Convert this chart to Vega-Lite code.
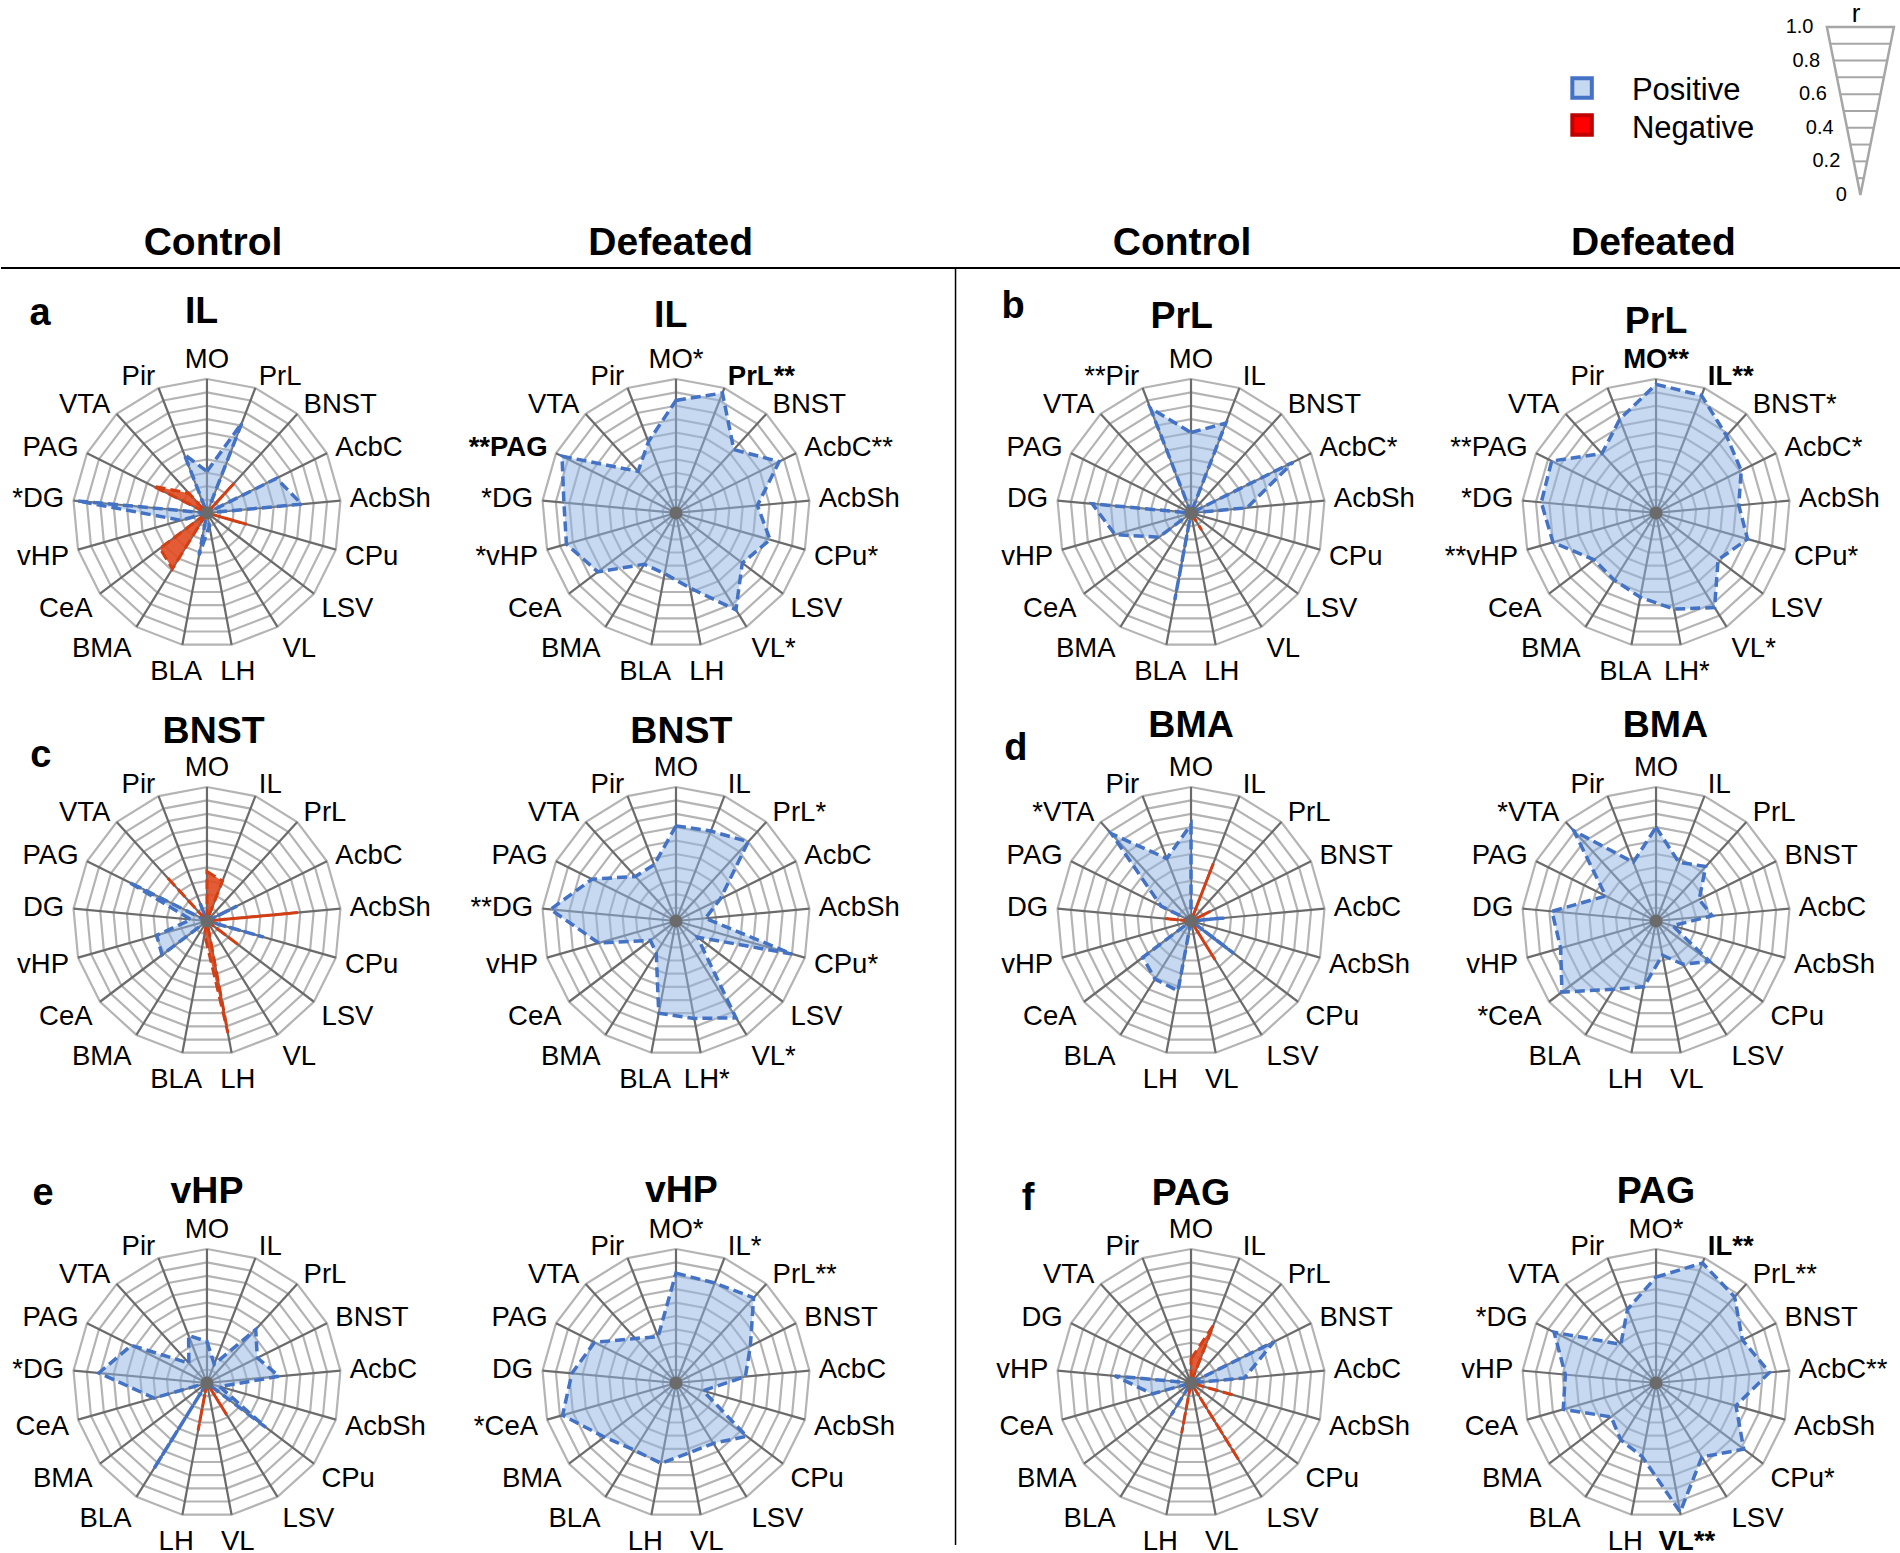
{
"$schema":"https://vega.github.io/schema/vega-lite/v6.json",
"padding":0,
"background":"white",
"columns":4,
"align":"each",
"spacing":0,
"bounds":"flush",
"config":{"view":{"stroke":null},"axis":{"disable":true},"concat":{"spacing":0},
"style":{
"lab":{"font":"Liberation Sans","fontSize":27.5,"baseline":"middle"},
"labb":{"font":"Liberation Sans","fontSize":27.5,"baseline":"middle","fontWeight":"bold"},
"ttl":{"font":"Liberation Sans","fontSize":37.5,"fontWeight":"bold","baseline":"alphabetic","align":"center"},
"ltr":{"font":"Liberation Sans","fontSize":38,"fontWeight":"bold","baseline":"alphabetic","align":"center"},
"hdr":{"font":"Liberation Sans","fontSize":39,"fontWeight":"bold","baseline":"alphabetic","align":"center"},
"leg":{"font":"Liberation Sans","fontSize":31,"baseline":"alphabetic","align":"left"},
"tick":{"font":"Liberation Sans","fontSize":20,"baseline":"middle","align":"right"}
}},
"datasets":{
"grid":[{"k":0,"lv":[0.1,0.2,0.3,0.4,0.5,0.6,0.7,0.8,0.9,1]},{"k":1,"lv":[0.1,0.2,0.3,0.4,0.5,0.6,0.7,0.8,0.9,1]},{"k":2,"lv":[0.1,0.2,0.3,0.4,0.5,0.6,0.7,0.8,0.9,1]},{"k":3,"lv":[0.1,0.2,0.3,0.4,0.5,0.6,0.7,0.8,0.9,1]},{"k":4,"lv":[0.1,0.2,0.3,0.4,0.5,0.6,0.7,0.8,0.9,1]},{"k":5,"lv":[0.1,0.2,0.3,0.4,0.5,0.6,0.7,0.8,0.9,1]},{"k":6,"lv":[0.1,0.2,0.3,0.4,0.5,0.6,0.7,0.8,0.9,1]},{"k":7,"lv":[0.1,0.2,0.3,0.4,0.5,0.6,0.7,0.8,0.9,1]},{"k":8,"lv":[0.1,0.2,0.3,0.4,0.5,0.6,0.7,0.8,0.9,1]},{"k":9,"lv":[0.1,0.2,0.3,0.4,0.5,0.6,0.7,0.8,0.9,1]},{"k":10,"lv":[0.1,0.2,0.3,0.4,0.5,0.6,0.7,0.8,0.9,1]},{"k":11,"lv":[0.1,0.2,0.3,0.4,0.5,0.6,0.7,0.8,0.9,1]},{"k":12,"lv":[0.1,0.2,0.3,0.4,0.5,0.6,0.7,0.8,0.9,1]},{"k":13,"lv":[0.1,0.2,0.3,0.4,0.5,0.6,0.7,0.8,0.9,1]},{"k":14,"lv":[0.1,0.2,0.3,0.4,0.5,0.6,0.7,0.8,0.9,1]},{"k":15,"lv":[0.1,0.2,0.3,0.4,0.5,0.6,0.7,0.8,0.9,1]},{"k":16,"lv":[0.1,0.2,0.3,0.4,0.5,0.6,0.7,0.8,0.9,1]}],
"d":[
{"p":"ac","k":0,"lab":"MO","r":0.31},{"p":"ac","k":1,"lab":"PrL","r":0.72},{"p":"ac","k":2,"lab":"BNST","r":-0.30},{"p":"ac","k":3,"lab":"AcbC","r":0.58},{"p":"ac","k":4,"lab":"AcbSh","r":0.71},{"p":"ac","k":5,"lab":"CPu","r":-0.31},{"p":"ac","k":6,"lab":"LSV","r":0},{"p":"ac","k":7,"lab":"VL","r":0},{"p":"ac","k":8,"lab":"LH","r":0.1},{"p":"ac","k":9,"lab":"BLA","r":0.32},{"p":"ac","k":10,"lab":"BMA","r":-0.49},{"p":"ac","k":11,"lab":"CeA","r":-0.44},{"p":"ac","k":12,"lab":"vHP","r":0.2},{"p":"ac","k":13,"lab":"*DG","r":0.97},{"p":"ac","k":14,"lab":"PAG","r":-0.45},{"p":"ac","k":15,"lab":"VTA","r":-0.2},{"p":"ac","k":16,"lab":"Pir","r":0.47},
{"p":"ad","k":0,"lab":"MO*","r":0.84},{"p":"ad","k":1,"lab":"PrL**","r":0.96,"b":1},{"p":"ad","k":2,"lab":"BNST","r":0.64},{"p":"ad","k":3,"lab":"AcbC**","r":0.86},{"p":"ad","k":4,"lab":"AcbSh","r":0.61},{"p":"ad","k":5,"lab":"CPu*","r":0.73},{"p":"ad","k":6,"lab":"LSV","r":0.62},{"p":"ad","k":7,"lab":"VL*","r":0.85},{"p":"ad","k":8,"lab":"LH","r":0.57},{"p":"ad","k":9,"lab":"BLA","r":0.46},{"p":"ad","k":10,"lab":"BMA","r":0.45},{"p":"ad","k":11,"lab":"CeA","r":0.73},{"p":"ad","k":12,"lab":"*vHP","r":0.85},{"p":"ad","k":13,"lab":"*DG","r":0.84},{"p":"ad","k":14,"lab":"**PAG","r":0.95,"b":1},{"p":"ad","k":15,"lab":"VTA","r":0.42},{"p":"ad","k":16,"lab":"Pir","r":0.57},
{"p":"bc","k":0,"lab":"MO","r":0.6},{"p":"bc","k":1,"lab":"IL","r":0.72},{"p":"bc","k":2,"lab":"BNST","r":0},{"p":"bc","k":3,"lab":"AcbC*","r":0.85},{"p":"bc","k":4,"lab":"AcbSh","r":0.42},{"p":"bc","k":5,"lab":"CPu","r":0},{"p":"bc","k":6,"lab":"LSV","r":0},{"p":"bc","k":7,"lab":"VL","r":-0.15},{"p":"bc","k":8,"lab":"LH","r":0},{"p":"bc","k":9,"lab":"BLA","r":0.66},{"p":"bc","k":10,"lab":"BMA","r":0},{"p":"bc","k":11,"lab":"CeA","r":0.3},{"p":"bc","k":12,"lab":"vHP","r":0.59},{"p":"bc","k":13,"lab":"DG","r":0.74},{"p":"bc","k":14,"lab":"PAG","r":0},{"p":"bc","k":15,"lab":"VTA","r":0},{"p":"bc","k":16,"lab":"**Pir","r":0.84},
{"p":"bd","k":0,"lab":"MO**","r":0.96,"b":1},{"p":"bd","k":1,"lab":"IL**","r":0.94,"b":1},{"p":"bd","k":2,"lab":"BNST*","r":0.78},{"p":"bd","k":3,"lab":"AcbC*","r":0.71},{"p":"bd","k":4,"lab":"AcbSh","r":0.62},{"p":"bd","k":5,"lab":"CPu*","r":0.71},{"p":"bd","k":6,"lab":"LSV","r":0.58},{"p":"bd","k":7,"lab":"VL*","r":0.83},{"p":"bd","k":8,"lab":"LH*","r":0.73},{"p":"bd","k":9,"lab":"BLA","r":0.64},{"p":"bd","k":10,"lab":"BMA","r":0.59},{"p":"bd","k":11,"lab":"CeA","r":0.58},{"p":"bd","k":12,"lab":"**vHP","r":0.8},{"p":"bd","k":13,"lab":"*DG","r":0.86},{"p":"bd","k":14,"lab":"**PAG","r":0.87},{"p":"bd","k":15,"lab":"VTA","r":0.6},{"p":"bd","k":16,"lab":"Pir","r":0.75},
{"p":"cc","k":0,"lab":"MO","r":-0.37},{"p":"cc","k":1,"lab":"IL","r":-0.32},{"p":"cc","k":2,"lab":"PrL","r":0},{"p":"cc","k":3,"lab":"AcbC","r":0.25},{"p":"cc","k":4,"lab":"AcbSh","r":-0.68},{"p":"cc","k":5,"lab":"CPu","r":0.44},{"p":"cc","k":6,"lab":"LSV","r":-0.3},{"p":"cc","k":7,"lab":"VL","r":0},{"p":"cc","k":8,"lab":"LH","r":-0.85},{"p":"cc","k":9,"lab":"BLA","r":-0.1},{"p":"cc","k":10,"lab":"BMA","r":0},{"p":"cc","k":11,"lab":"CeA","r":0.42},{"p":"cc","k":12,"lab":"vHP","r":0.39},{"p":"cc","k":13,"lab":"DG","r":0.12},{"p":"cc","k":14,"lab":"PAG","r":0.65},{"p":"cc","k":15,"lab":"VTA","r":-0.45},{"p":"cc","k":16,"lab":"Pir","r":0.15},
{"p":"cd","k":0,"lab":"MO","r":0.71},{"p":"cd","k":1,"lab":"IL","r":0.72},{"p":"cd","k":2,"lab":"PrL*","r":0.8},{"p":"cd","k":3,"lab":"AcbC","r":0.37},{"p":"cd","k":4,"lab":"AcbSh","r":0.22},{"p":"cd","k":5,"lab":"CPu*","r":0.9},{"p":"cd","k":6,"lab":"LSV","r":0.2},{"p":"cd","k":7,"lab":"VL*","r":0.85},{"p":"cd","k":8,"lab":"LH*","r":0.74},{"p":"cd","k":9,"lab":"BLA","r":0.7},{"p":"cd","k":10,"lab":"BMA","r":0.28},{"p":"cd","k":11,"lab":"CeA","r":0.24},{"p":"cd","k":12,"lab":"vHP","r":0.6},{"p":"cd","k":13,"lab":"**DG","r":0.94},{"p":"cd","k":14,"lab":"PAG","r":0.7},{"p":"cd","k":15,"lab":"VTA","r":0.45},{"p":"cd","k":16,"lab":"Pir","r":0.45},
{"p":"dc","k":0,"lab":"MO","r":0.72},{"p":"dc","k":1,"lab":"IL","r":-0.46},{"p":"dc","k":2,"lab":"PrL","r":0},{"p":"dc","k":3,"lab":"BNST","r":-0.16},{"p":"dc","k":4,"lab":"AcbC","r":0.25},{"p":"dc","k":5,"lab":"AcbSh","r":0},{"p":"dc","k":6,"lab":"CPu","r":0.4},{"p":"dc","k":7,"lab":"LSV","r":-0.34},{"p":"dc","k":8,"lab":"VL","r":0},{"p":"dc","k":9,"lab":"LH","r":0.53},{"p":"dc","k":10,"lab":"BLA","r":0.51},{"p":"dc","k":11,"lab":"CeA","r":0.45},{"p":"dc","k":12,"lab":"vHP","r":0},{"p":"dc","k":13,"lab":"DG","r":-0.2},{"p":"dc","k":14,"lab":"PAG","r":0.25},{"p":"dc","k":15,"lab":"*VTA","r":0.88},{"p":"dc","k":16,"lab":"Pir","r":0.5},
{"p":"dd","k":0,"lab":"MO","r":0.7},{"p":"dd","k":1,"lab":"IL","r":0.47},{"p":"dd","k":2,"lab":"PrL","r":0.55},{"p":"dd","k":3,"lab":"BNST","r":0.36},{"p":"dd","k":4,"lab":"AcbC","r":0.42},{"p":"dd","k":5,"lab":"AcbSh","r":0.13},{"p":"dd","k":6,"lab":"CPu","r":0.5},{"p":"dd","k":7,"lab":"LSV","r":0.38},{"p":"dd","k":8,"lab":"VL","r":0.26},{"p":"dd","k":9,"lab":"LH","r":0.5},{"p":"dd","k":10,"lab":"BLA","r":0.6},{"p":"dd","k":11,"lab":"*CeA","r":0.88},{"p":"dd","k":12,"lab":"vHP","r":0.74},{"p":"dd","k":13,"lab":"DG","r":0.78},{"p":"dd","k":14,"lab":"PAG","r":0.42},{"p":"dd","k":15,"lab":"*VTA","r":0.91},{"p":"dd","k":16,"lab":"Pir","r":0.47},
{"p":"ec","k":0,"lab":"MO","r":0.31},{"p":"ec","k":1,"lab":"IL","r":0.15},{"p":"ec","k":2,"lab":"PrL","r":0.54},{"p":"ec","k":3,"lab":"BNST","r":0.42},{"p":"ec","k":4,"lab":"AcbC","r":0.54},{"p":"ec","k":5,"lab":"AcbSh","r":0.1},{"p":"ec","k":6,"lab":"CPu","r":0.55},{"p":"ec","k":7,"lab":"LSV","r":-0.28},{"p":"ec","k":8,"lab":"VL","r":0},{"p":"ec","k":9,"lab":"LH","r":-0.36},{"p":"ec","k":10,"lab":"BLA","r":0.75},{"p":"ec","k":11,"lab":"BMA","r":0},{"p":"ec","k":12,"lab":"CeA","r":0.41},{"p":"ec","k":13,"lab":"*DG","r":0.81},{"p":"ec","k":14,"lab":"PAG","r":0.63},{"p":"ec","k":15,"lab":"VTA","r":0.2},{"p":"ec","k":16,"lab":"Pir","r":0.38},
{"p":"ed","k":0,"lab":"MO*","r":0.82},{"p":"ed","k":1,"lab":"IL*","r":0.8},{"p":"ed","k":2,"lab":"PrL**","r":0.86},{"p":"ed","k":3,"lab":"BNST","r":0.62},{"p":"ed","k":4,"lab":"AcbC","r":0.52},{"p":"ed","k":5,"lab":"AcbSh","r":0.21},{"p":"ed","k":6,"lab":"CPu","r":0.66},{"p":"ed","k":7,"lab":"LSV","r":0.53},{"p":"ed","k":8,"lab":"VL","r":0.53},{"p":"ed","k":9,"lab":"LH","r":0.61},{"p":"ed","k":10,"lab":"BLA","r":0.59},{"p":"ed","k":11,"lab":"BMA","r":0.67},{"p":"ed","k":12,"lab":"*CeA","r":0.88},{"p":"ed","k":13,"lab":"DG","r":0.78},{"p":"ed","k":14,"lab":"PAG","r":0.68},{"p":"ed","k":15,"lab":"VTA","r":0.45},{"p":"ed","k":16,"lab":"Pir","r":0.37},
{"p":"fc","k":0,"lab":"MO","r":-0.18},{"p":"fc","k":1,"lab":"IL","r":-0.46},{"p":"fc","k":2,"lab":"PrL","r":0},{"p":"fc","k":3,"lab":"BNST","r":0.69},{"p":"fc","k":4,"lab":"AcbC","r":0.4},{"p":"fc","k":5,"lab":"AcbSh","r":-0.34},{"p":"fc","k":6,"lab":"CPu","r":0},{"p":"fc","k":7,"lab":"LSV","r":-0.68},{"p":"fc","k":8,"lab":"VL","r":0},{"p":"fc","k":9,"lab":"LH","r":-0.38},{"p":"fc","k":10,"lab":"BLA","r":0.28},{"p":"fc","k":11,"lab":"BMA","r":0},{"p":"fc","k":12,"lab":"CeA","r":0.3},{"p":"fc","k":13,"lab":"vHP","r":0.57},{"p":"fc","k":14,"lab":"DG","r":0},{"p":"fc","k":15,"lab":"VTA","r":0},{"p":"fc","k":16,"lab":"Pir","r":0},
{"p":"fd","k":0,"lab":"MO*","r":0.79},{"p":"fd","k":1,"lab":"IL**","r":0.96,"b":1},{"p":"fd","k":2,"lab":"PrL**","r":0.87},{"p":"fd","k":3,"lab":"BNST","r":0.72},{"p":"fd","k":4,"lab":"AcbC**","r":0.85},{"p":"fd","k":5,"lab":"AcbSh","r":0.62},{"p":"fd","k":6,"lab":"CPu*","r":0.82},{"p":"fd","k":7,"lab":"LSV","r":0.65},{"p":"fd","k":8,"lab":"VL**","r":0.98,"b":1},{"p":"fd","k":9,"lab":"LH","r":0.56},{"p":"fd","k":10,"lab":"BLA","r":0.5},{"p":"fd","k":11,"lab":"BMA","r":0.42},{"p":"fd","k":12,"lab":"CeA","r":0.72},{"p":"fd","k":13,"lab":"vHP","r":0.68},{"p":"fd","k":14,"lab":"*DG","r":0.85},{"p":"fd","k":15,"lab":"VTA","r":0.39},{"p":"fd","k":16,"lab":"Pir","r":0.59}
]},
"concat":[
{"width":439,"height":268,"data":{"values":[{}]},"layer":[
{"mark":{"type":"text","style":"hdr","text":"Control"},"encoding":{"x":{"datum":0.045,"type":"quantitative","scale":{"domain":[-1.537,1.739],"nice":false,"zero":false},"axis":null},"y":{"datum":0.1,"type":"quantitative","scale":{"domain":[0,2],"nice":false,"zero":false},"axis":null}}},
{"mark":{"type":"rule","stroke":"#000","strokeWidth":2},"encoding":{"x":{"datum":-1.537},"x2":{"datum":1.739},"y":{"datum":0}}}]},
{"width":515,"height":268,"data":{"values":[{}]},"layer":[
{"mark":{"type":"text","style":"hdr","text":"Defeated"},"encoding":{"x":{"datum":-0.04,"type":"quantitative","scale":{"domain":[-1.761,2.082],"nice":false,"zero":false},"axis":null},"y":{"datum":0.1,"type":"quantitative","scale":{"domain":[0,2],"nice":false,"zero":false},"axis":null}}},
{"mark":{"type":"rule","stroke":"#000","strokeWidth":2},"encoding":{"x":{"datum":-1.761},"x2":{"datum":2.082},"y":{"datum":0}}}]},
{"width":466,"height":268,"data":{"values":[{}]},"layer":[
{"mark":{"type":"text","style":"hdr","text":"Control"},"encoding":{"x":{"datum":-0.067,"type":"quantitative","scale":{"domain":[-1.761,1.716],"nice":false,"zero":false},"axis":null},"y":{"datum":0.1,"type":"quantitative","scale":{"domain":[0,2],"nice":false,"zero":false},"axis":null}}},
{"mark":{"type":"rule","stroke":"#000","strokeWidth":2},"encoding":{"x":{"datum":-1.761},"x2":{"datum":1.716},"y":{"datum":0}}}]},
{"width":480,"height":268,"data":{"values":[{}]},"layer":[
{"mark":{"type":"text","style":"hdr","text":"Defeated"},"encoding":{"x":{"datum":-0.02,"type":"quantitative","scale":{"domain":[-1.754,1.828],"nice":false,"zero":false},"axis":null},"y":{"datum":0.1,"type":"quantitative","scale":{"domain":[0,2],"nice":false,"zero":false},"axis":null}}},
{"mark":{"type":"rule","stroke":"#000","strokeWidth":2},"encoding":{"x":{"datum":-1.754},"x2":{"datum":1.828},"y":{"datum":0}}},
{"mark":{"type":"point","shape":"square","filled":true,"size":380,"fill":"#c5d9f1","stroke":"#4472c4","strokeWidth":4,"opacity":1},"encoding":{"x":{"datum":-0.552},"y":{"datum":1.343}}},
{"mark":{"type":"point","shape":"square","filled":true,"size":380,"fill":"#ff0000","stroke":"#c00000","strokeWidth":4,"opacity":1},"encoding":{"x":{"datum":-0.552},"y":{"datum":1.067}}},
{"mark":{"type":"text","style":"leg","text":"Positive","align":"left"},"encoding":{"x":{"datum":-0.18},"y":{"datum":1.254}}},
{"mark":{"type":"text","style":"leg","text":"Negative","align":"left"},"encoding":{"x":{"datum":-0.18},"y":{"datum":0.97}}},
{"data":{"values":[{"v":0,"sd":0},{"v":1,"sd":-1},{"v":1,"sd":1}]},"transform":[{"calculate":"1.525+datum.sd*0.25*datum.v","as":"x"},{"calculate":"0.545+1.254*datum.v","as":"y"}],"mark":{"type":"line","interpolate":"linear-closed","stroke":"#a6a6a6","strokeWidth":2.5},"encoding":{"x":{"field":"x","type":"quantitative"},"y":{"field":"y","type":"quantitative"},"order":{"field":"sd","type":"quantitative"}}},
{"data":{"values":[{"v":0.1},{"v":0.2},{"v":0.3},{"v":0.4},{"v":0.5},{"v":0.6},{"v":0.7},{"v":0.8},{"v":0.9}]},"transform":[{"calculate":"1.525-0.25*datum.v","as":"x"},{"calculate":"1.525+0.25*datum.v","as":"x2"},{"calculate":"0.545+1.254*datum.v","as":"y"}],"mark":{"type":"rule","stroke":"#a6a6a6","strokeWidth":2},"encoding":{"x":{"field":"x","type":"quantitative"},"x2":{"field":"x2"},"y":{"field":"y","type":"quantitative"}}},
{"data":{"values":[{"v":0,"t":"0"},{"v":0.2,"t":"0.2"},{"v":0.4,"t":"0.4"},{"v":0.6,"t":"0.6"},{"v":0.8,"t":"0.8"},{"v":1,"t":"1.0"}]},"transform":[{"calculate":"1.425-0.25*datum.v","as":"x"},{"calculate":"0.545+1.254*datum.v","as":"y"}],"mark":{"type":"text","style":"tick","align":"right"},"encoding":{"x":{"field":"x","type":"quantitative"},"y":{"field":"y","type":"quantitative"},"text":{"field":"t","type":"nominal"}}},
{"mark":{"type":"text","font":"Liberation Sans","fontSize":26,"baseline":"top","align":"center","text":"r"},"encoding":{"x":{"datum":1.493},"y":{"datum":1.99}}}
]},
{"width":439,"height":450,"layer":[
{"data":{"name":"grid"},"transform":[{"flatten":["lv"]},{"calculate":"datum.lv*sin(2*PI*datum.k/17)","as":"x"},{"calculate":"datum.lv*cos(2*PI*datum.k/17)","as":"y"}],"mark":{"type":"line","interpolate":"linear-closed","stroke":"#b4b4b4","strokeWidth":2.2},"encoding":{"x":{"field":"x","type":"quantitative","scale":{"domain":[-1.537,1.739],"nice":false,"zero":false},"axis":null},"y":{"field":"y","type":"quantitative","scale":{"domain":[-1.530,1.828],"nice":false,"zero":false},"axis":null},"detail":{"field":"lv","type":"nominal"},"order":{"field":"k","type":"quantitative"}}},
{"data":{"name":"grid"},"transform":[{"calculate":"sin(2*PI*datum.k/17)","as":"x"},{"calculate":"cos(2*PI*datum.k/17)","as":"y"}],"mark":{"type":"rule","stroke":"#6b6b6b","strokeWidth":2.2},"encoding":{"x":{"field":"x","type":"quantitative"},"y":{"field":"y","type":"quantitative"},"x2":{"datum":0},"y2":{"datum":0}}},
{"data":{"name":"d"},"transform":[{"filter":"datum.p=='ac'"},{"calculate":"sin(2*PI*datum.k/17)","as":"s"},{"calculate":"cos(2*PI*datum.k/17)","as":"c"}],"encoding":{"x":{"field":"x","type":"quantitative"},"y":{"field":"y","type":"quantitative"}},"layer":[
{"transform":[{"calculate":"max(datum.r,0)*datum.s","as":"x"},{"calculate":"max(datum.r,0)*datum.c","as":"y"}],"mark":{"type":"line","interpolate":"linear-closed","fill":"#8db3e2","fillOpacity":0.5,"stroke":"#4472c4","strokeWidth":3.5,"strokeDash":[10,5]},"encoding":{"order":{"field":"k","type":"quantitative"}}},
{"transform":[{"calculate":"max(-datum.r,0)*datum.s","as":"x"},{"calculate":"max(-datum.r,0)*datum.c","as":"y"}],"mark":{"type":"line","interpolate":"linear-closed","fill":"#e04a20","fillOpacity":0.9,"stroke":"#d23f15","strokeWidth":3,"strokeDash":[10,5]},"encoding":{"order":{"field":"k","type":"quantitative"}}},
{"transform":[{"calculate":"abs(datum.s)<0.3?1.25*datum.s:1.07*datum.s","as":"x"},{"calculate":"abs(datum.s)<0.3?(datum.c>0?1.14:1.21*datum.c):(datum.c>=0?1.09:1.19)*datum.c","as":"y"}],"encoding":{"text":{"field":"lab","type":"nominal"}},"layer":[
{"transform":[{"filter":"datum.s>=0.3&&!datum.b"}],"mark":{"type":"text","style":"lab","align":"left"}},
{"transform":[{"filter":"datum.s<=-0.3&&!datum.b"}],"mark":{"type":"text","style":"lab","align":"right"}},
{"transform":[{"filter":"abs(datum.s)<0.3&&!datum.b"}],"mark":{"type":"text","style":"lab","align":"center"}}]}]},
{"data":{"values":[{}]},"mark":{"type":"point","filled":true,"fill":"#6b6b6b","size":170,"strokeWidth":0,"opacity":1},"encoding":{"x":{"datum":0},"y":{"datum":0}}},
{"data":{"values":[{}]},"mark":{"type":"text","style":"ttl","text":"IL"},"encoding":{"x":{"datum":-0.04},"y":{"datum":1.42}}},
{"data":{"values":[{}]},"mark":{"type":"text","style":"ltr","text":"a"},"encoding":{"x":{"datum":-1.246},"y":{"datum":1.40}}}
]},
{"width":515,"height":450,"layer":[
{"data":{"name":"grid"},"transform":[{"flatten":["lv"]},{"calculate":"datum.lv*sin(2*PI*datum.k/17)","as":"x"},{"calculate":"datum.lv*cos(2*PI*datum.k/17)","as":"y"}],"mark":{"type":"line","interpolate":"linear-closed","stroke":"#b4b4b4","strokeWidth":2.2},"encoding":{"x":{"field":"x","type":"quantitative","scale":{"domain":[-1.761,2.082],"nice":false,"zero":false},"axis":null},"y":{"field":"y","type":"quantitative","scale":{"domain":[-1.530,1.828],"nice":false,"zero":false},"axis":null},"detail":{"field":"lv","type":"nominal"},"order":{"field":"k","type":"quantitative"}}},
{"data":{"name":"grid"},"transform":[{"calculate":"sin(2*PI*datum.k/17)","as":"x"},{"calculate":"cos(2*PI*datum.k/17)","as":"y"}],"mark":{"type":"rule","stroke":"#6b6b6b","strokeWidth":2.2},"encoding":{"x":{"field":"x","type":"quantitative"},"y":{"field":"y","type":"quantitative"},"x2":{"datum":0},"y2":{"datum":0}}},
{"data":{"name":"d"},"transform":[{"filter":"datum.p=='ad'"},{"calculate":"sin(2*PI*datum.k/17)","as":"s"},{"calculate":"cos(2*PI*datum.k/17)","as":"c"}],"encoding":{"x":{"field":"x","type":"quantitative"},"y":{"field":"y","type":"quantitative"}},"layer":[
{"transform":[{"calculate":"max(datum.r,0)*datum.s","as":"x"},{"calculate":"max(datum.r,0)*datum.c","as":"y"}],"mark":{"type":"line","interpolate":"linear-closed","fill":"#8db3e2","fillOpacity":0.5,"stroke":"#4472c4","strokeWidth":3.5,"strokeDash":[10,5]},"encoding":{"order":{"field":"k","type":"quantitative"}}},
{"transform":[{"calculate":"abs(datum.s)<0.3?1.25*datum.s:1.07*datum.s","as":"x"},{"calculate":"abs(datum.s)<0.3?(datum.c>0?1.14:1.21*datum.c):(datum.c>=0?1.09:1.19)*datum.c","as":"y"}],"encoding":{"text":{"field":"lab","type":"nominal"}},"layer":[
{"transform":[{"filter":"datum.s>=0.3&&!datum.b"}],"mark":{"type":"text","style":"lab","align":"left"}},
{"transform":[{"filter":"datum.s<=-0.3&&!datum.b"}],"mark":{"type":"text","style":"lab","align":"right"}},
{"transform":[{"filter":"abs(datum.s)<0.3&&!datum.b"}],"mark":{"type":"text","style":"lab","align":"center"}},
{"transform":[{"filter":"datum.s>=0.3&&datum.b"}],"mark":{"type":"text","style":"labb","align":"left"}},
{"transform":[{"filter":"datum.s<=-0.3&&datum.b"}],"mark":{"type":"text","style":"labb","align":"right"}},
{"transform":[{"filter":"abs(datum.s)<0.3&&datum.b"}],"mark":{"type":"text","style":"labb","align":"center"}}]}]},
{"data":{"values":[{}]},"mark":{"type":"point","filled":true,"fill":"#6b6b6b","size":170,"strokeWidth":0,"opacity":1},"encoding":{"x":{"datum":0},"y":{"datum":0}}},
{"data":{"values":[{}]},"mark":{"type":"text","style":"ttl","text":"IL"},"encoding":{"x":{"datum":-0.04},"y":{"datum":1.39}}}
]},
{"width":466,"height":450,"layer":[
{"data":{"name":"grid"},"transform":[{"flatten":["lv"]},{"calculate":"datum.lv*sin(2*PI*datum.k/17)","as":"x"},{"calculate":"datum.lv*cos(2*PI*datum.k/17)","as":"y"}],"mark":{"type":"line","interpolate":"linear-closed","stroke":"#b4b4b4","strokeWidth":2.2},"encoding":{"x":{"field":"x","type":"quantitative","scale":{"domain":[-1.761,1.716],"nice":false,"zero":false},"axis":null},"y":{"field":"y","type":"quantitative","scale":{"domain":[-1.530,1.828],"nice":false,"zero":false},"axis":null},"detail":{"field":"lv","type":"nominal"},"order":{"field":"k","type":"quantitative"}}},
{"data":{"name":"grid"},"transform":[{"calculate":"sin(2*PI*datum.k/17)","as":"x"},{"calculate":"cos(2*PI*datum.k/17)","as":"y"}],"mark":{"type":"rule","stroke":"#6b6b6b","strokeWidth":2.2},"encoding":{"x":{"field":"x","type":"quantitative"},"y":{"field":"y","type":"quantitative"},"x2":{"datum":0},"y2":{"datum":0}}},
{"data":{"name":"d"},"transform":[{"filter":"datum.p=='bc'"},{"calculate":"sin(2*PI*datum.k/17)","as":"s"},{"calculate":"cos(2*PI*datum.k/17)","as":"c"}],"encoding":{"x":{"field":"x","type":"quantitative"},"y":{"field":"y","type":"quantitative"}},"layer":[
{"transform":[{"calculate":"max(datum.r,0)*datum.s","as":"x"},{"calculate":"max(datum.r,0)*datum.c","as":"y"}],"mark":{"type":"line","interpolate":"linear-closed","fill":"#8db3e2","fillOpacity":0.5,"stroke":"#4472c4","strokeWidth":3.5,"strokeDash":[10,5]},"encoding":{"order":{"field":"k","type":"quantitative"}}},
{"transform":[{"calculate":"max(-datum.r,0)*datum.s","as":"x"},{"calculate":"max(-datum.r,0)*datum.c","as":"y"}],"mark":{"type":"line","interpolate":"linear-closed","fill":"#e04a20","fillOpacity":0.9,"stroke":"#d23f15","strokeWidth":3,"strokeDash":[10,5]},"encoding":{"order":{"field":"k","type":"quantitative"}}},
{"transform":[{"calculate":"abs(datum.s)<0.3?1.25*datum.s:1.07*datum.s","as":"x"},{"calculate":"abs(datum.s)<0.3?(datum.c>0?1.14:1.21*datum.c):(datum.c>=0?1.09:1.19)*datum.c","as":"y"}],"encoding":{"text":{"field":"lab","type":"nominal"}},"layer":[
{"transform":[{"filter":"datum.s>=0.3&&!datum.b"}],"mark":{"type":"text","style":"lab","align":"left"}},
{"transform":[{"filter":"datum.s<=-0.3&&!datum.b"}],"mark":{"type":"text","style":"lab","align":"right"}},
{"transform":[{"filter":"abs(datum.s)<0.3&&!datum.b"}],"mark":{"type":"text","style":"lab","align":"center"}}]}]},
{"data":{"values":[{}]},"mark":{"type":"point","filled":true,"fill":"#6b6b6b","size":170,"strokeWidth":0,"opacity":1},"encoding":{"x":{"datum":0},"y":{"datum":0}}},
{"data":{"values":[{}]},"mark":{"type":"text","style":"ttl","text":"PrL"},"encoding":{"x":{"datum":-0.07},"y":{"datum":1.38}}},
{"data":{"values":[{}]},"mark":{"type":"text","style":"ltr","text":"b"},"encoding":{"x":{"datum":-1.328},"y":{"datum":1.455}}},
{"data":{"values":[{}]},"mark":{"type":"rule","stroke":"#000","strokeWidth":1.5},"encoding":{"x":{"datum":-1.757},"y":{"datum":-1.530},"y2":{"datum":1.828}}}
]},
{"width":480,"height":450,"layer":[
{"data":{"name":"grid"},"transform":[{"flatten":["lv"]},{"calculate":"datum.lv*sin(2*PI*datum.k/17)","as":"x"},{"calculate":"datum.lv*cos(2*PI*datum.k/17)","as":"y"}],"mark":{"type":"line","interpolate":"linear-closed","stroke":"#b4b4b4","strokeWidth":2.2},"encoding":{"x":{"field":"x","type":"quantitative","scale":{"domain":[-1.754,1.828],"nice":false,"zero":false},"axis":null},"y":{"field":"y","type":"quantitative","scale":{"domain":[-1.530,1.828],"nice":false,"zero":false},"axis":null},"detail":{"field":"lv","type":"nominal"},"order":{"field":"k","type":"quantitative"}}},
{"data":{"name":"grid"},"transform":[{"calculate":"sin(2*PI*datum.k/17)","as":"x"},{"calculate":"cos(2*PI*datum.k/17)","as":"y"}],"mark":{"type":"rule","stroke":"#6b6b6b","strokeWidth":2.2},"encoding":{"x":{"field":"x","type":"quantitative"},"y":{"field":"y","type":"quantitative"},"x2":{"datum":0},"y2":{"datum":0}}},
{"data":{"name":"d"},"transform":[{"filter":"datum.p=='bd'"},{"calculate":"sin(2*PI*datum.k/17)","as":"s"},{"calculate":"cos(2*PI*datum.k/17)","as":"c"}],"encoding":{"x":{"field":"x","type":"quantitative"},"y":{"field":"y","type":"quantitative"}},"layer":[
{"transform":[{"calculate":"max(datum.r,0)*datum.s","as":"x"},{"calculate":"max(datum.r,0)*datum.c","as":"y"}],"mark":{"type":"line","interpolate":"linear-closed","fill":"#8db3e2","fillOpacity":0.5,"stroke":"#4472c4","strokeWidth":3.5,"strokeDash":[10,5]},"encoding":{"order":{"field":"k","type":"quantitative"}}},
{"transform":[{"calculate":"abs(datum.s)<0.3?1.25*datum.s:1.07*datum.s","as":"x"},{"calculate":"abs(datum.s)<0.3?(datum.c>0?1.14:1.21*datum.c):(datum.c>=0?1.09:1.19)*datum.c","as":"y"}],"encoding":{"text":{"field":"lab","type":"nominal"}},"layer":[
{"transform":[{"filter":"datum.s>=0.3&&!datum.b"}],"mark":{"type":"text","style":"lab","align":"left"}},
{"transform":[{"filter":"datum.s<=-0.3&&!datum.b"}],"mark":{"type":"text","style":"lab","align":"right"}},
{"transform":[{"filter":"abs(datum.s)<0.3&&!datum.b"}],"mark":{"type":"text","style":"lab","align":"center"}},
{"transform":[{"filter":"datum.s>=0.3&&datum.b"}],"mark":{"type":"text","style":"labb","align":"left"}},
{"transform":[{"filter":"datum.s<=-0.3&&datum.b"}],"mark":{"type":"text","style":"labb","align":"right"}},
{"transform":[{"filter":"abs(datum.s)<0.3&&datum.b"}],"mark":{"type":"text","style":"labb","align":"center"}}]}]},
{"data":{"values":[{}]},"mark":{"type":"point","filled":true,"fill":"#6b6b6b","size":170,"strokeWidth":0,"opacity":1},"encoding":{"x":{"datum":0},"y":{"datum":0}}},
{"data":{"values":[{}]},"mark":{"type":"text","style":"ttl","text":"PrL"},"encoding":{"x":{"datum":0},"y":{"datum":1.34}}}
]},
{"width":439,"height":432,"layer":[
{"data":{"name":"grid"},"transform":[{"flatten":["lv"]},{"calculate":"datum.lv*sin(2*PI*datum.k/17)","as":"x"},{"calculate":"datum.lv*cos(2*PI*datum.k/17)","as":"y"}],"mark":{"type":"line","interpolate":"linear-closed","stroke":"#b4b4b4","strokeWidth":2.2},"encoding":{"x":{"field":"x","type":"quantitative","scale":{"domain":[-1.537,1.739],"nice":false,"zero":false},"axis":null},"y":{"field":"y","type":"quantitative","scale":{"domain":[-1.709,1.515],"nice":false,"zero":false},"axis":null},"detail":{"field":"lv","type":"nominal"},"order":{"field":"k","type":"quantitative"}}},
{"data":{"name":"grid"},"transform":[{"calculate":"sin(2*PI*datum.k/17)","as":"x"},{"calculate":"cos(2*PI*datum.k/17)","as":"y"}],"mark":{"type":"rule","stroke":"#6b6b6b","strokeWidth":2.2},"encoding":{"x":{"field":"x","type":"quantitative"},"y":{"field":"y","type":"quantitative"},"x2":{"datum":0},"y2":{"datum":0}}},
{"data":{"name":"d"},"transform":[{"filter":"datum.p=='cc'"},{"calculate":"sin(2*PI*datum.k/17)","as":"s"},{"calculate":"cos(2*PI*datum.k/17)","as":"c"}],"encoding":{"x":{"field":"x","type":"quantitative"},"y":{"field":"y","type":"quantitative"}},"layer":[
{"transform":[{"calculate":"max(datum.r,0)*datum.s","as":"x"},{"calculate":"max(datum.r,0)*datum.c","as":"y"}],"mark":{"type":"line","interpolate":"linear-closed","fill":"#8db3e2","fillOpacity":0.5,"stroke":"#4472c4","strokeWidth":3.5,"strokeDash":[10,5]},"encoding":{"order":{"field":"k","type":"quantitative"}}},
{"transform":[{"calculate":"max(-datum.r,0)*datum.s","as":"x"},{"calculate":"max(-datum.r,0)*datum.c","as":"y"}],"mark":{"type":"line","interpolate":"linear-closed","fill":"#e04a20","fillOpacity":0.9,"stroke":"#d23f15","strokeWidth":3,"strokeDash":[10,5]},"encoding":{"order":{"field":"k","type":"quantitative"}}},
{"transform":[{"calculate":"abs(datum.s)<0.3?1.25*datum.s:1.07*datum.s","as":"x"},{"calculate":"abs(datum.s)<0.3?(datum.c>0?1.14:1.21*datum.c):(datum.c>=0?1.09:1.19)*datum.c","as":"y"}],"encoding":{"text":{"field":"lab","type":"nominal"}},"layer":[
{"transform":[{"filter":"datum.s>=0.3&&!datum.b"}],"mark":{"type":"text","style":"lab","align":"left"}},
{"transform":[{"filter":"datum.s<=-0.3&&!datum.b"}],"mark":{"type":"text","style":"lab","align":"right"}},
{"transform":[{"filter":"abs(datum.s)<0.3&&!datum.b"}],"mark":{"type":"text","style":"lab","align":"center"}}]}]},
{"data":{"values":[{}]},"mark":{"type":"point","filled":true,"fill":"#6b6b6b","size":170,"strokeWidth":0,"opacity":1},"encoding":{"x":{"datum":0},"y":{"datum":0}}},
{"data":{"values":[{}]},"mark":{"type":"text","style":"ttl","text":"BNST"},"encoding":{"x":{"datum":0.05},"y":{"datum":1.33}}},
{"data":{"values":[{}]},"mark":{"type":"text","style":"ltr","text":"c"},"encoding":{"x":{"datum":-1.239},"y":{"datum":1.15}}}
]},
{"width":515,"height":432,"layer":[
{"data":{"name":"grid"},"transform":[{"flatten":["lv"]},{"calculate":"datum.lv*sin(2*PI*datum.k/17)","as":"x"},{"calculate":"datum.lv*cos(2*PI*datum.k/17)","as":"y"}],"mark":{"type":"line","interpolate":"linear-closed","stroke":"#b4b4b4","strokeWidth":2.2},"encoding":{"x":{"field":"x","type":"quantitative","scale":{"domain":[-1.761,2.082],"nice":false,"zero":false},"axis":null},"y":{"field":"y","type":"quantitative","scale":{"domain":[-1.709,1.515],"nice":false,"zero":false},"axis":null},"detail":{"field":"lv","type":"nominal"},"order":{"field":"k","type":"quantitative"}}},
{"data":{"name":"grid"},"transform":[{"calculate":"sin(2*PI*datum.k/17)","as":"x"},{"calculate":"cos(2*PI*datum.k/17)","as":"y"}],"mark":{"type":"rule","stroke":"#6b6b6b","strokeWidth":2.2},"encoding":{"x":{"field":"x","type":"quantitative"},"y":{"field":"y","type":"quantitative"},"x2":{"datum":0},"y2":{"datum":0}}},
{"data":{"name":"d"},"transform":[{"filter":"datum.p=='cd'"},{"calculate":"sin(2*PI*datum.k/17)","as":"s"},{"calculate":"cos(2*PI*datum.k/17)","as":"c"}],"encoding":{"x":{"field":"x","type":"quantitative"},"y":{"field":"y","type":"quantitative"}},"layer":[
{"transform":[{"calculate":"max(datum.r,0)*datum.s","as":"x"},{"calculate":"max(datum.r,0)*datum.c","as":"y"}],"mark":{"type":"line","interpolate":"linear-closed","fill":"#8db3e2","fillOpacity":0.5,"stroke":"#4472c4","strokeWidth":3.5,"strokeDash":[10,5]},"encoding":{"order":{"field":"k","type":"quantitative"}}},
{"transform":[{"calculate":"abs(datum.s)<0.3?1.25*datum.s:1.07*datum.s","as":"x"},{"calculate":"abs(datum.s)<0.3?(datum.c>0?1.14:1.21*datum.c):(datum.c>=0?1.09:1.19)*datum.c","as":"y"}],"encoding":{"text":{"field":"lab","type":"nominal"}},"layer":[
{"transform":[{"filter":"datum.s>=0.3&&!datum.b"}],"mark":{"type":"text","style":"lab","align":"left"}},
{"transform":[{"filter":"datum.s<=-0.3&&!datum.b"}],"mark":{"type":"text","style":"lab","align":"right"}},
{"transform":[{"filter":"abs(datum.s)<0.3&&!datum.b"}],"mark":{"type":"text","style":"lab","align":"center"}}]}]},
{"data":{"values":[{}]},"mark":{"type":"point","filled":true,"fill":"#6b6b6b","size":170,"strokeWidth":0,"opacity":1},"encoding":{"x":{"datum":0},"y":{"datum":0}}},
{"data":{"values":[{}]},"mark":{"type":"text","style":"ttl","text":"BNST"},"encoding":{"x":{"datum":0.04},"y":{"datum":1.33}}}
]},
{"width":466,"height":432,"layer":[
{"data":{"name":"grid"},"transform":[{"flatten":["lv"]},{"calculate":"datum.lv*sin(2*PI*datum.k/17)","as":"x"},{"calculate":"datum.lv*cos(2*PI*datum.k/17)","as":"y"}],"mark":{"type":"line","interpolate":"linear-closed","stroke":"#b4b4b4","strokeWidth":2.2},"encoding":{"x":{"field":"x","type":"quantitative","scale":{"domain":[-1.761,1.716],"nice":false,"zero":false},"axis":null},"y":{"field":"y","type":"quantitative","scale":{"domain":[-1.709,1.515],"nice":false,"zero":false},"axis":null},"detail":{"field":"lv","type":"nominal"},"order":{"field":"k","type":"quantitative"}}},
{"data":{"name":"grid"},"transform":[{"calculate":"sin(2*PI*datum.k/17)","as":"x"},{"calculate":"cos(2*PI*datum.k/17)","as":"y"}],"mark":{"type":"rule","stroke":"#6b6b6b","strokeWidth":2.2},"encoding":{"x":{"field":"x","type":"quantitative"},"y":{"field":"y","type":"quantitative"},"x2":{"datum":0},"y2":{"datum":0}}},
{"data":{"name":"d"},"transform":[{"filter":"datum.p=='dc'"},{"calculate":"sin(2*PI*datum.k/17)","as":"s"},{"calculate":"cos(2*PI*datum.k/17)","as":"c"}],"encoding":{"x":{"field":"x","type":"quantitative"},"y":{"field":"y","type":"quantitative"}},"layer":[
{"transform":[{"calculate":"max(datum.r,0)*datum.s","as":"x"},{"calculate":"max(datum.r,0)*datum.c","as":"y"}],"mark":{"type":"line","interpolate":"linear-closed","fill":"#8db3e2","fillOpacity":0.5,"stroke":"#4472c4","strokeWidth":3.5,"strokeDash":[10,5]},"encoding":{"order":{"field":"k","type":"quantitative"}}},
{"transform":[{"calculate":"max(-datum.r,0)*datum.s","as":"x"},{"calculate":"max(-datum.r,0)*datum.c","as":"y"}],"mark":{"type":"line","interpolate":"linear-closed","fill":"#e04a20","fillOpacity":0.9,"stroke":"#d23f15","strokeWidth":3,"strokeDash":[10,5]},"encoding":{"order":{"field":"k","type":"quantitative"}}},
{"transform":[{"calculate":"abs(datum.s)<0.3?1.25*datum.s:1.07*datum.s","as":"x"},{"calculate":"abs(datum.s)<0.3?(datum.c>0?1.14:1.21*datum.c):(datum.c>=0?1.09:1.19)*datum.c","as":"y"}],"encoding":{"text":{"field":"lab","type":"nominal"}},"layer":[
{"transform":[{"filter":"datum.s>=0.3&&!datum.b"}],"mark":{"type":"text","style":"lab","align":"left"}},
{"transform":[{"filter":"datum.s<=-0.3&&!datum.b"}],"mark":{"type":"text","style":"lab","align":"right"}},
{"transform":[{"filter":"abs(datum.s)<0.3&&!datum.b"}],"mark":{"type":"text","style":"lab","align":"center"}}]}]},
{"data":{"values":[{}]},"mark":{"type":"point","filled":true,"fill":"#6b6b6b","size":170,"strokeWidth":0,"opacity":1},"encoding":{"x":{"datum":0},"y":{"datum":0}}},
{"data":{"values":[{}]},"mark":{"type":"text","style":"ttl","text":"BMA"},"encoding":{"x":{"datum":0},"y":{"datum":1.37}}},
{"data":{"values":[{}]},"mark":{"type":"text","style":"ltr","text":"d"},"encoding":{"x":{"datum":-1.306},"y":{"datum":1.20}}},
{"data":{"values":[{}]},"mark":{"type":"rule","stroke":"#000","strokeWidth":1.5},"encoding":{"x":{"datum":-1.757},"y":{"datum":-1.709},"y2":{"datum":1.515}}}
]},
{"width":480,"height":432,"layer":[
{"data":{"name":"grid"},"transform":[{"flatten":["lv"]},{"calculate":"datum.lv*sin(2*PI*datum.k/17)","as":"x"},{"calculate":"datum.lv*cos(2*PI*datum.k/17)","as":"y"}],"mark":{"type":"line","interpolate":"linear-closed","stroke":"#b4b4b4","strokeWidth":2.2},"encoding":{"x":{"field":"x","type":"quantitative","scale":{"domain":[-1.754,1.828],"nice":false,"zero":false},"axis":null},"y":{"field":"y","type":"quantitative","scale":{"domain":[-1.709,1.515],"nice":false,"zero":false},"axis":null},"detail":{"field":"lv","type":"nominal"},"order":{"field":"k","type":"quantitative"}}},
{"data":{"name":"grid"},"transform":[{"calculate":"sin(2*PI*datum.k/17)","as":"x"},{"calculate":"cos(2*PI*datum.k/17)","as":"y"}],"mark":{"type":"rule","stroke":"#6b6b6b","strokeWidth":2.2},"encoding":{"x":{"field":"x","type":"quantitative"},"y":{"field":"y","type":"quantitative"},"x2":{"datum":0},"y2":{"datum":0}}},
{"data":{"name":"d"},"transform":[{"filter":"datum.p=='dd'"},{"calculate":"sin(2*PI*datum.k/17)","as":"s"},{"calculate":"cos(2*PI*datum.k/17)","as":"c"}],"encoding":{"x":{"field":"x","type":"quantitative"},"y":{"field":"y","type":"quantitative"}},"layer":[
{"transform":[{"calculate":"max(datum.r,0)*datum.s","as":"x"},{"calculate":"max(datum.r,0)*datum.c","as":"y"}],"mark":{"type":"line","interpolate":"linear-closed","fill":"#8db3e2","fillOpacity":0.5,"stroke":"#4472c4","strokeWidth":3.5,"strokeDash":[10,5]},"encoding":{"order":{"field":"k","type":"quantitative"}}},
{"transform":[{"calculate":"abs(datum.s)<0.3?1.25*datum.s:1.07*datum.s","as":"x"},{"calculate":"abs(datum.s)<0.3?(datum.c>0?1.14:1.21*datum.c):(datum.c>=0?1.09:1.19)*datum.c","as":"y"}],"encoding":{"text":{"field":"lab","type":"nominal"}},"layer":[
{"transform":[{"filter":"datum.s>=0.3&&!datum.b"}],"mark":{"type":"text","style":"lab","align":"left"}},
{"transform":[{"filter":"datum.s<=-0.3&&!datum.b"}],"mark":{"type":"text","style":"lab","align":"right"}},
{"transform":[{"filter":"abs(datum.s)<0.3&&!datum.b"}],"mark":{"type":"text","style":"lab","align":"center"}}]}]},
{"data":{"values":[{}]},"mark":{"type":"point","filled":true,"fill":"#6b6b6b","size":170,"strokeWidth":0,"opacity":1},"encoding":{"x":{"datum":0},"y":{"datum":0}}},
{"data":{"values":[{}]},"mark":{"type":"text","style":"ttl","text":"BMA"},"encoding":{"x":{"datum":0.07},"y":{"datum":1.37}}}
]},
{"width":439,"height":403,"layer":[
{"data":{"name":"grid"},"transform":[{"flatten":["lv"]},{"calculate":"datum.lv*sin(2*PI*datum.k/17)","as":"x"},{"calculate":"datum.lv*cos(2*PI*datum.k/17)","as":"y"}],"mark":{"type":"line","interpolate":"linear-closed","stroke":"#b4b4b4","strokeWidth":2.2},"encoding":{"x":{"field":"x","type":"quantitative","scale":{"domain":[-1.537,1.739],"nice":false,"zero":false},"axis":null},"y":{"field":"y","type":"quantitative","scale":{"domain":[-1.269,1.739],"nice":false,"zero":false},"axis":null},"detail":{"field":"lv","type":"nominal"},"order":{"field":"k","type":"quantitative"}}},
{"data":{"name":"grid"},"transform":[{"calculate":"sin(2*PI*datum.k/17)","as":"x"},{"calculate":"cos(2*PI*datum.k/17)","as":"y"}],"mark":{"type":"rule","stroke":"#6b6b6b","strokeWidth":2.2},"encoding":{"x":{"field":"x","type":"quantitative"},"y":{"field":"y","type":"quantitative"},"x2":{"datum":0},"y2":{"datum":0}}},
{"data":{"name":"d"},"transform":[{"filter":"datum.p=='ec'"},{"calculate":"sin(2*PI*datum.k/17)","as":"s"},{"calculate":"cos(2*PI*datum.k/17)","as":"c"}],"encoding":{"x":{"field":"x","type":"quantitative"},"y":{"field":"y","type":"quantitative"}},"layer":[
{"transform":[{"calculate":"max(datum.r,0)*datum.s","as":"x"},{"calculate":"max(datum.r,0)*datum.c","as":"y"}],"mark":{"type":"line","interpolate":"linear-closed","fill":"#8db3e2","fillOpacity":0.5,"stroke":"#4472c4","strokeWidth":3.5,"strokeDash":[10,5]},"encoding":{"order":{"field":"k","type":"quantitative"}}},
{"transform":[{"calculate":"max(-datum.r,0)*datum.s","as":"x"},{"calculate":"max(-datum.r,0)*datum.c","as":"y"}],"mark":{"type":"line","interpolate":"linear-closed","fill":"#e04a20","fillOpacity":0.9,"stroke":"#d23f15","strokeWidth":3,"strokeDash":[10,5]},"encoding":{"order":{"field":"k","type":"quantitative"}}},
{"transform":[{"calculate":"abs(datum.s)<0.3?1.25*datum.s:1.07*datum.s","as":"x"},{"calculate":"abs(datum.s)<0.3?(datum.c>0?1.14:1.21*datum.c):(datum.c>=0?1.09:1.19)*datum.c","as":"y"}],"encoding":{"text":{"field":"lab","type":"nominal"}},"layer":[
{"transform":[{"filter":"datum.s>=0.3&&!datum.b"}],"mark":{"type":"text","style":"lab","align":"left"}},
{"transform":[{"filter":"datum.s<=-0.3&&!datum.b"}],"mark":{"type":"text","style":"lab","align":"right"}},
{"transform":[{"filter":"abs(datum.s)<0.3&&!datum.b"}],"mark":{"type":"text","style":"lab","align":"center"}}]}]},
{"data":{"values":[{}]},"mark":{"type":"point","filled":true,"fill":"#6b6b6b","size":170,"strokeWidth":0,"opacity":1},"encoding":{"x":{"datum":0},"y":{"datum":0}}},
{"data":{"values":[{}]},"mark":{"type":"text","style":"ttl","text":"vHP"},"encoding":{"x":{"datum":0},"y":{"datum":1.34}}},
{"data":{"values":[{}]},"mark":{"type":"text","style":"ltr","text":"e"},"encoding":{"x":{"datum":-1.224},"y":{"datum":1.33}}}
]},
{"width":515,"height":403,"layer":[
{"data":{"name":"grid"},"transform":[{"flatten":["lv"]},{"calculate":"datum.lv*sin(2*PI*datum.k/17)","as":"x"},{"calculate":"datum.lv*cos(2*PI*datum.k/17)","as":"y"}],"mark":{"type":"line","interpolate":"linear-closed","stroke":"#b4b4b4","strokeWidth":2.2},"encoding":{"x":{"field":"x","type":"quantitative","scale":{"domain":[-1.761,2.082],"nice":false,"zero":false},"axis":null},"y":{"field":"y","type":"quantitative","scale":{"domain":[-1.269,1.739],"nice":false,"zero":false},"axis":null},"detail":{"field":"lv","type":"nominal"},"order":{"field":"k","type":"quantitative"}}},
{"data":{"name":"grid"},"transform":[{"calculate":"sin(2*PI*datum.k/17)","as":"x"},{"calculate":"cos(2*PI*datum.k/17)","as":"y"}],"mark":{"type":"rule","stroke":"#6b6b6b","strokeWidth":2.2},"encoding":{"x":{"field":"x","type":"quantitative"},"y":{"field":"y","type":"quantitative"},"x2":{"datum":0},"y2":{"datum":0}}},
{"data":{"name":"d"},"transform":[{"filter":"datum.p=='ed'"},{"calculate":"sin(2*PI*datum.k/17)","as":"s"},{"calculate":"cos(2*PI*datum.k/17)","as":"c"}],"encoding":{"x":{"field":"x","type":"quantitative"},"y":{"field":"y","type":"quantitative"}},"layer":[
{"transform":[{"calculate":"max(datum.r,0)*datum.s","as":"x"},{"calculate":"max(datum.r,0)*datum.c","as":"y"}],"mark":{"type":"line","interpolate":"linear-closed","fill":"#8db3e2","fillOpacity":0.5,"stroke":"#4472c4","strokeWidth":3.5,"strokeDash":[10,5]},"encoding":{"order":{"field":"k","type":"quantitative"}}},
{"transform":[{"calculate":"abs(datum.s)<0.3?1.25*datum.s:1.07*datum.s","as":"x"},{"calculate":"abs(datum.s)<0.3?(datum.c>0?1.14:1.21*datum.c):(datum.c>=0?1.09:1.19)*datum.c","as":"y"}],"encoding":{"text":{"field":"lab","type":"nominal"}},"layer":[
{"transform":[{"filter":"datum.s>=0.3&&!datum.b"}],"mark":{"type":"text","style":"lab","align":"left"}},
{"transform":[{"filter":"datum.s<=-0.3&&!datum.b"}],"mark":{"type":"text","style":"lab","align":"right"}},
{"transform":[{"filter":"abs(datum.s)<0.3&&!datum.b"}],"mark":{"type":"text","style":"lab","align":"center"}}]}]},
{"data":{"values":[{}]},"mark":{"type":"point","filled":true,"fill":"#6b6b6b","size":170,"strokeWidth":0,"opacity":1},"encoding":{"x":{"datum":0},"y":{"datum":0}}},
{"data":{"values":[{}]},"mark":{"type":"text","style":"ttl","text":"vHP"},"encoding":{"x":{"datum":0.04},"y":{"datum":1.35}}}
]},
{"width":466,"height":403,"layer":[
{"data":{"name":"grid"},"transform":[{"flatten":["lv"]},{"calculate":"datum.lv*sin(2*PI*datum.k/17)","as":"x"},{"calculate":"datum.lv*cos(2*PI*datum.k/17)","as":"y"}],"mark":{"type":"line","interpolate":"linear-closed","stroke":"#b4b4b4","strokeWidth":2.2},"encoding":{"x":{"field":"x","type":"quantitative","scale":{"domain":[-1.761,1.716],"nice":false,"zero":false},"axis":null},"y":{"field":"y","type":"quantitative","scale":{"domain":[-1.269,1.739],"nice":false,"zero":false},"axis":null},"detail":{"field":"lv","type":"nominal"},"order":{"field":"k","type":"quantitative"}}},
{"data":{"name":"grid"},"transform":[{"calculate":"sin(2*PI*datum.k/17)","as":"x"},{"calculate":"cos(2*PI*datum.k/17)","as":"y"}],"mark":{"type":"rule","stroke":"#6b6b6b","strokeWidth":2.2},"encoding":{"x":{"field":"x","type":"quantitative"},"y":{"field":"y","type":"quantitative"},"x2":{"datum":0},"y2":{"datum":0}}},
{"data":{"name":"d"},"transform":[{"filter":"datum.p=='fc'"},{"calculate":"sin(2*PI*datum.k/17)","as":"s"},{"calculate":"cos(2*PI*datum.k/17)","as":"c"}],"encoding":{"x":{"field":"x","type":"quantitative"},"y":{"field":"y","type":"quantitative"}},"layer":[
{"transform":[{"calculate":"max(datum.r,0)*datum.s","as":"x"},{"calculate":"max(datum.r,0)*datum.c","as":"y"}],"mark":{"type":"line","interpolate":"linear-closed","fill":"#8db3e2","fillOpacity":0.5,"stroke":"#4472c4","strokeWidth":3.5,"strokeDash":[10,5]},"encoding":{"order":{"field":"k","type":"quantitative"}}},
{"transform":[{"calculate":"max(-datum.r,0)*datum.s","as":"x"},{"calculate":"max(-datum.r,0)*datum.c","as":"y"}],"mark":{"type":"line","interpolate":"linear-closed","fill":"#e04a20","fillOpacity":0.9,"stroke":"#d23f15","strokeWidth":3,"strokeDash":[10,5]},"encoding":{"order":{"field":"k","type":"quantitative"}}},
{"transform":[{"calculate":"abs(datum.s)<0.3?1.25*datum.s:1.07*datum.s","as":"x"},{"calculate":"abs(datum.s)<0.3?(datum.c>0?1.14:1.21*datum.c):(datum.c>=0?1.09:1.19)*datum.c","as":"y"}],"encoding":{"text":{"field":"lab","type":"nominal"}},"layer":[
{"transform":[{"filter":"datum.s>=0.3&&!datum.b"}],"mark":{"type":"text","style":"lab","align":"left"}},
{"transform":[{"filter":"datum.s<=-0.3&&!datum.b"}],"mark":{"type":"text","style":"lab","align":"right"}},
{"transform":[{"filter":"abs(datum.s)<0.3&&!datum.b"}],"mark":{"type":"text","style":"lab","align":"center"}}]}]},
{"data":{"values":[{}]},"mark":{"type":"point","filled":true,"fill":"#6b6b6b","size":170,"strokeWidth":0,"opacity":1},"encoding":{"x":{"datum":0},"y":{"datum":0}}},
{"data":{"values":[{}]},"mark":{"type":"text","style":"ttl","text":"PAG"},"encoding":{"x":{"datum":0},"y":{"datum":1.33}}},
{"data":{"values":[{}]},"mark":{"type":"text","style":"ltr","text":"f"},"encoding":{"x":{"datum":-1.216},"y":{"datum":1.29}}},
{"data":{"values":[{}]},"mark":{"type":"rule","stroke":"#000","strokeWidth":1.5},"encoding":{"x":{"datum":-1.757},"y":{"datum":-1.209},"y2":{"datum":1.739}}}
]},
{"width":480,"height":403,"layer":[
{"data":{"name":"grid"},"transform":[{"flatten":["lv"]},{"calculate":"datum.lv*sin(2*PI*datum.k/17)","as":"x"},{"calculate":"datum.lv*cos(2*PI*datum.k/17)","as":"y"}],"mark":{"type":"line","interpolate":"linear-closed","stroke":"#b4b4b4","strokeWidth":2.2},"encoding":{"x":{"field":"x","type":"quantitative","scale":{"domain":[-1.754,1.828],"nice":false,"zero":false},"axis":null},"y":{"field":"y","type":"quantitative","scale":{"domain":[-1.269,1.739],"nice":false,"zero":false},"axis":null},"detail":{"field":"lv","type":"nominal"},"order":{"field":"k","type":"quantitative"}}},
{"data":{"name":"grid"},"transform":[{"calculate":"sin(2*PI*datum.k/17)","as":"x"},{"calculate":"cos(2*PI*datum.k/17)","as":"y"}],"mark":{"type":"rule","stroke":"#6b6b6b","strokeWidth":2.2},"encoding":{"x":{"field":"x","type":"quantitative"},"y":{"field":"y","type":"quantitative"},"x2":{"datum":0},"y2":{"datum":0}}},
{"data":{"name":"d"},"transform":[{"filter":"datum.p=='fd'"},{"calculate":"sin(2*PI*datum.k/17)","as":"s"},{"calculate":"cos(2*PI*datum.k/17)","as":"c"}],"encoding":{"x":{"field":"x","type":"quantitative"},"y":{"field":"y","type":"quantitative"}},"layer":[
{"transform":[{"calculate":"max(datum.r,0)*datum.s","as":"x"},{"calculate":"max(datum.r,0)*datum.c","as":"y"}],"mark":{"type":"line","interpolate":"linear-closed","fill":"#8db3e2","fillOpacity":0.5,"stroke":"#4472c4","strokeWidth":3.5,"strokeDash":[10,5]},"encoding":{"order":{"field":"k","type":"quantitative"}}},
{"transform":[{"calculate":"abs(datum.s)<0.3?1.25*datum.s:1.07*datum.s","as":"x"},{"calculate":"abs(datum.s)<0.3?(datum.c>0?1.14:1.21*datum.c):(datum.c>=0?1.09:1.19)*datum.c","as":"y"}],"encoding":{"text":{"field":"lab","type":"nominal"}},"layer":[
{"transform":[{"filter":"datum.s>=0.3&&!datum.b"}],"mark":{"type":"text","style":"lab","align":"left"}},
{"transform":[{"filter":"datum.s<=-0.3&&!datum.b"}],"mark":{"type":"text","style":"lab","align":"right"}},
{"transform":[{"filter":"abs(datum.s)<0.3&&!datum.b"}],"mark":{"type":"text","style":"lab","align":"center"}},
{"transform":[{"filter":"datum.s>=0.3&&datum.b"}],"mark":{"type":"text","style":"labb","align":"left"}},
{"transform":[{"filter":"datum.s<=-0.3&&datum.b"}],"mark":{"type":"text","style":"labb","align":"right"}},
{"transform":[{"filter":"abs(datum.s)<0.3&&datum.b"}],"mark":{"type":"text","style":"labb","align":"center"}}]}]},
{"data":{"values":[{}]},"mark":{"type":"point","filled":true,"fill":"#6b6b6b","size":170,"strokeWidth":0,"opacity":1},"encoding":{"x":{"datum":0},"y":{"datum":0}}},
{"data":{"values":[{}]},"mark":{"type":"text","style":"ttl","text":"PAG"},"encoding":{"x":{"datum":0},"y":{"datum":1.34}}}
]}
]
}
